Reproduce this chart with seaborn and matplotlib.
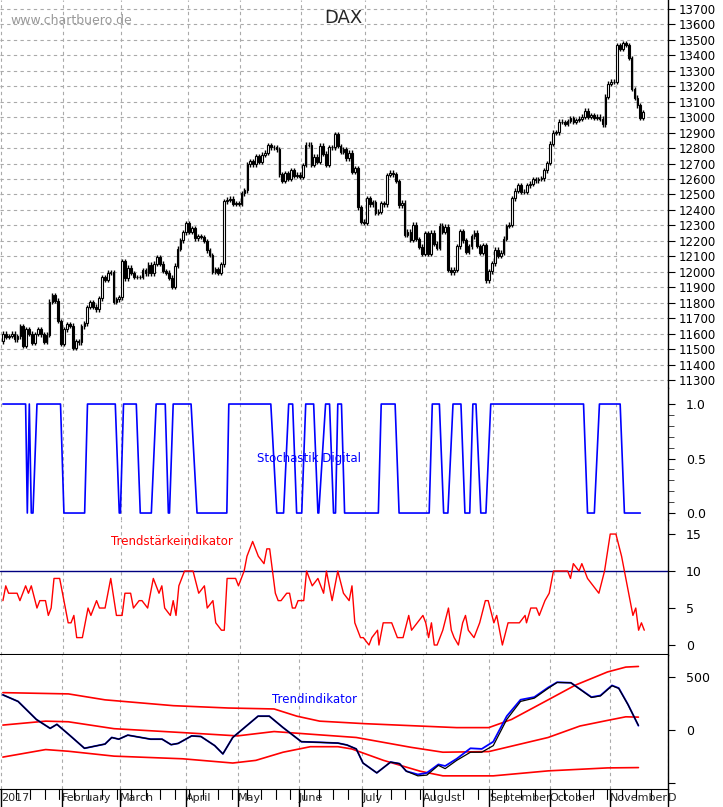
import matplotlib
matplotlib.use("Agg")
import matplotlib.pyplot as plt
import seaborn as sns
import numpy as np
import pandas as pd

sns.set_style("white")
plt.rcParams["font.family"] = ["DejaVu Sans"]

# ---- DAX daily closes 2017 (by month) ----
closes_jan = [11600, 11580, 11585, 11599, 11563, 11583, 11646, 11521, 11629, 11599, 11540,
              11597, 11630, 11595, 11545, 11594, 11806, 11849, 11814, 11681, 11535]
closes_feb = [11627, 11659, 11651, 11509, 11549, 11543, 11646, 11666, 11771, 11803, 11774,
              11757, 11827, 11967, 11947, 11995, 11998, 11804, 11822, 11834]
closes_mar = [12067, 11958, 12027, 11993, 11965, 11967, 11967, 12009, 11990, 12046, 11989, 12053,
              12095, 12052, 12006, 11995, 11962, 11904, 12039, 12149, 12203, 12256, 12313]
closes_apr = [12257, 12282, 12217, 12230, 12225, 12200, 12139, 12109, 12000, 12016, 11994, 12048,
              12455, 12467, 12472, 12438, 12443, 12438]
closes_may = [12507, 12527, 12694, 12716, 12694, 12749, 12711, 12757, 12770, 12820, 12804,
              12805, 12792, 12631, 12590, 12638, 12602, 12656, 12622, 12628, 12615]
closes_jun = [12690, 12822, 12823, 12690, 12745, 12713, 12815, 12764, 12690, 12806, 12805,
              12889, 12814, 12774, 12794, 12733, 12770, 12647, 12671, 12416, 12325, 12318]
closes_jul = [12475, 12437, 12452, 12381, 12389, 12445, 12437, 12626, 12641, 12631, 12587,
              12430, 12447, 12240, 12260, 12208, 12305, 12212, 12162, 12118, 12251]
closes_aug = [12118, 12252, 12182, 12154, 12298, 12257, 12292, 12014, 11996, 12014, 12165, 12263,
              12203, 12131, 12165, 12229, 12252, 12167, 12123, 12172, 11945, 12003, 12055]
closes_sep = [12142, 12102, 12124, 12214, 12296, 12304, 12475, 12524, 12560, 12519, 12518,
              12559, 12569, 12601, 12592, 12600, 12605, 12657, 12704, 12828, 12900]
closes_oct = [12902, 12970, 12968, 12955, 12976, 12992, 12970, 12982, 12991, 13003, 13043,
              13003, 13013, 12995, 13004, 12990, 12953, 13133, 13217, 13229, 13230]
closes_nov = [13466, 13440, 13478, 13468, 13383, 13182, 13127, 13076, 12994, 13033]

months = ["2017", "February", "March", "April", "May", "June", "July", "August",
          "September", "October", "November", "D"]
month_lengths = [21, 20, 23, 18, 21, 22, 21, 23, 21, 21, 20, 20]

# ---- Stochastik Digital (day, value) ----
stoch_day = [0, 8, 8.6, 9.3, 10, 10.6, 12, 20.3, 21.5, 28.8, 29.8, 39.6, 41, 41.4, 42.5, 47, 48.4,
             52.3, 54, 57.2, 58.3, 58.7, 60, 66.3, 68.4, 78.9, 79.6, 94.4, 96.5, 98.9, 100.7,
             102.1, 103.5, 105.3, 106.7, 109.5, 111, 111.3, 113.7, 115.1, 116.5, 117.2, 118,
             119.3, 120.4, 132.3, 133.3, 138.2, 139.6, 150.2, 151.3, 153.8, 155.3, 156.8, 158.6,
             161.4, 162.8, 164.5, 165.6, 166.7, 168.4, 170.2, 171.9, 204.6, 206, 208.4, 210.2,
             217.5, 219, 224.6]
stoch_val = [1, 1, 0, 1, 0, 0, 1, 1, 0, 0, 1, 1, 0, 0, 1, 1, 0,
             0, 1, 1, 0, 0, 1, 1, 0, 0, 1, 1, 0, 0, 1,
             1, 0, 0, 1, 1, 0, 0, 1, 1, 0, 0, 1,
             1, 0, 0, 1, 1, 0, 0, 1, 1, 0, 0, 1,
             1, 0, 0, 1, 1, 0, 0, 1, 1, 0, 0, 1,
             1, 0, 0]

# ---- Trendstaerkeindikator ----
ts_day = [0, 1, 2, 5, 6, 8, 9, 10, 12, 13, 15, 16, 17, 18, 20, 22, 23, 24, 25, 26, 28, 30, 31,
          33, 34, 36, 38, 40, 42, 43, 45, 46, 48, 49, 51, 51.5, 53, 55, 56, 57, 59, 60, 61, 62,
          64, 67, 69, 71, 72, 74, 75, 77, 78, 79, 82, 83, 85, 86, 88, 90, 92, 93, 94, 96, 97,
          98, 100, 101, 102, 103, 104, 106, 107, 108, 109, 111, 113, 114, 116, 118, 120, 122,
          123, 124, 126, 127, 129, 130, 132, 132.5, 134, 137, 139, 141, 143, 144, 146, 148, 149,
          150, 151, 152, 153, 155, 157, 158, 159, 160.5, 162, 163, 164, 166, 168, 170, 171, 173,
          174, 176, 178, 182, 184, 184.5, 186, 188, 189, 191, 192.5, 194, 199, 200, 201, 203,
          204, 206, 208, 210, 212, 214, 216, 218, 220, 222, 223, 224, 225, 226]
ts_val = [6, 8, 7, 7, 6, 8, 7, 8, 5, 6, 6, 4, 5, 9, 9, 5, 3, 3, 4, 1, 1, 5, 4,
          6, 5, 5, 9, 4, 4, 7, 7, 5, 6, 6, 5, 6, 9, 7, 8, 5, 4, 6, 4, 8,
          10, 10, 7, 8, 5, 6, 3, 2, 2, 9, 9, 8, 10, 12, 14, 12, 11, 13, 13, 7, 6,
          6, 7, 7, 5, 5, 6, 6, 10, 9, 8, 9, 7, 10, 6, 10, 7, 6,
          8, 3, 1, 1, 0, 1, 2, 0, 3, 3, 1, 1, 4, 2, 3, 4, 3,
          1, 3, 0, 0, 2, 5, 2, 1, 0, 3, 4, 2, 1, 3, 6, 6, 3,
          4, 0, 3, 3, 4, 3, 5, 5, 4, 6, 7, 10, 10, 9, 11, 10,
          11, 9, 8, 7, 10, 15, 15, 12, 8, 4, 5, 2, 3, 2]

# ---- Trendindikator ----
band_top_day = [0, 23.3, 36.3, 60.6, 80.1, 96.4, 104.5, 112.6, 128.8, 161.3, 172.7, 180.8,
                193.8, 203.5, 214.9, 221.4, 225.9]
band_top_val = [352, 340, 284, 229, 207, 198, 130, 83, 59, 22, 22, 99, 284, 423, 547, 593, 599]
band_mid_day = [0, 15.2, 23.3, 39.5, 63.9, 83.4, 96.4, 109.3, 125.6, 145.1, 156.4, 172.7, 193.8,
                205.1, 214.9, 221.4, 225.9]
band_mid_val = [46, 83, 77, 12, -25, -56, -15, -40, -71, -164, -210, -204, -71, 37, 90, 124, 121]
band_low_day = [0, 15.2, 23.3, 39.5, 63.9, 81.7, 89.9, 99.6, 109.3, 119.1, 124, 135.3, 148.3,
                156.4, 174.3, 193.8, 214.9, 225.9]
band_low_val = [-256, -185, -201, -247, -272, -312, -287, -210, -158, -158, -179, -287, -389,
                -433, -433, -386, -358, -355]
trend_day = [0, 5.4, 11.9, 16.8, 19.2, 23.3, 29, 36.3, 38.7, 41.2, 44.4, 52.5, 56.6, 59.8, 62.3,
             67.1, 70.4, 75.3, 78.2, 81.7, 90.7, 94.7, 99.6, 106.1, 112.6, 119.1, 122.3, 125.6,
             128, 132.9, 137.8, 141, 143.4, 147.5, 150.7, 154.8, 157.2, 161.3, 166.2, 170.2,
             174.3, 179.1, 184, 188.9, 193.8, 197, 201.9, 209.2, 212.4, 216.5, 218.9, 222.2, 225.9]
trend_black = [331, 269, 99, 15, 53, -40, -173, -133, -71, -87, -49, -87, -87, -139, -127,
               -56, -62, -148, -226, -71, 130, 130, 22, -111, -117, -124, -142, -179,
               -312, -405, -303, -318, -389, -433, -426, -334, -365, -287, -210, -210,
               -148, 99, 269, 300, 392, 448, 445, 306, 321, 417, 392, 238, 43]
trend_blue = [331, 269, 99, 15, 53, -40, -173, -133, -71, -87, -49, -87, -87, -139, -127,
              -56, -62, -148, -226, -71, 130, 130, 22, -111, -117, -124, -142, -179,
              -312, -405, -303, -318, -389, -420, -405, -325, -340, -272, -173, -179,
              -111, 130, 285, 310, 400, 450, 445, 310, 325, 420, 395, 240, 40]

DAY_SCALE = 0.975  # indicator day units -> trading-day index

closes = np.array(closes_jan + closes_feb + closes_mar + closes_apr + closes_may + closes_jun +
                  closes_jul + closes_aug + closes_sep + closes_oct + closes_nov, dtype=float)
opens = np.concatenate([[11550], closes[:-1]])
highs = np.maximum(opens, closes) + 15
lows = np.minimum(opens, closes) - 15
idx = np.arange(len(closes))
month_starts = np.concatenate([[0], np.cumsum(month_lengths)[:-1]])

W, H = 723, 807
fig = plt.figure(figsize=(W / 100, H / 100), dpi=100)
XL = (-1, 228.5)


def panel(top, bottom):
    return fig.add_axes([0, 1 - bottom / H, 668 / W, (bottom - top) / H])


def style(ax, ylim):
    ax.set_xlim(*XL)
    ax.set_ylim(*ylim)
    ax.yaxis.tick_right()
    for s in ["top", "left", "bottom"]:
        ax.spines[s].set_visible(False)
    ax.spines["right"].set_color("black")
    ax.spines["right"].set_linewidth(1)
    ax.tick_params(axis="y", direction="out", length=5, labelsize=9, pad=8, colors="black")
    ax.set_xticks([])
    for m in month_starts:
        ax.axvline(m - 0.5, color="#aaaaaa", ls=(0, (3, 3)), lw=0.8, zorder=0)
    ax.set_facecolor("white")


# price
ax1 = panel(0, 388)
style(ax1, (11248, 13758))
ax1.set_yticks(np.arange(11300, 13701, 100))
ax1.tick_params(axis="y", labelsize=8.5, pad=3)
for y in np.arange(11300, 13701, 100):
    ax1.axhline(y, color="#aaaaaa", ls=(0, (3, 3)), lw=0.8, zorder=0)
ax1.vlines(idx, lows, highs, color="black", lw=1, zorder=2)
up = closes >= opens
ax1.bar(idx[up], (closes - opens)[up], bottom=opens[up], width=0.6,
        facecolor="white", edgecolor="black", lw=0.8, zorder=3)
ax1.bar(idx[~up], (opens - closes)[~up], bottom=closes[~up], width=0.6,
        facecolor="black", edgecolor="black", lw=0.8, zorder=3)
fig.text(343 / W, 1 - 18 / H, "DAX", ha="center", va="center", fontsize=13)
fig.text(10 / W, 1 - 20 / H, "www.chartbuero.de", ha="left", va="center", fontsize=9, color="#999999")

# stochastik
ax2 = panel(388, 520)
style(ax2, (-0.064, 1.147))
ax2.set_yticks([0, 0.5, 1.0])
ax2.set_yticklabels(["0.0", "0.5", "1.0"])
ax2.set_yticks(np.arange(0, 1.01, 0.1), minor=True)
ax2.tick_params(axis="y", which="minor", length=4, direction="out")
sns.lineplot(x=np.array(stoch_day) * DAY_SCALE, y=stoch_val, ax=ax2, color="#0000ff", lw=1.2,
             estimator=None, sort=False)
ax2.text(105, 0.5, "Stochastik Digital", color="#0000ff",
         ha="center", va="center", fontsize=8.5)

# trendstaerke
ax3 = panel(520, 655)
style(ax3, (-1.35, 16.9))
ax3.set_yticks([0, 5, 10, 15])
ax3.axhline(10, color="#000080", lw=1)
sns.lineplot(x=np.array(ts_day) * DAY_SCALE, y=ts_val, ax=ax3, color="red", lw=1,
             estimator=None, sort=False)
ax3.text(58, 14, "Trendstärkeindikator", color="red", ha="center", va="center", fontsize=8.5)
ax3.axhline(-1.35, color="black", lw=1.5, clip_on=False)

# trendindikator
ax4 = panel(655, 789)
style(ax4, (-557, 707))
ax4.set_yticks([-500, 0, 500])
ax4.set_yticklabels(["", "0", "500"])
for d, v in [(band_top_day, band_top_val), (band_mid_day, band_mid_val), (band_low_day, band_low_val)]:
    sns.lineplot(x=np.array(d) * DAY_SCALE, y=v, ax=ax4, color="red", lw=1.2, estimator=None, sort=False)
sns.lineplot(x=np.array(trend_day) * DAY_SCALE, y=trend_blue, ax=ax4, color="#0000ff", lw=1.3,
             estimator=None, sort=False)
sns.lineplot(x=np.array(trend_day) * DAY_SCALE, y=trend_black, ax=ax4, color="black", lw=0.9,
             estimator=None, sort=False)
ax4.text(108, 290, "Trendindikator", color="#0000ff", ha="center", va="center", fontsize=8.5)
ax4.spines["bottom"].set_visible(True)
ax4.spines["bottom"].set_color("black")
# month labels and weekly ticks
ax4.set_xticks(month_starts - 0.5)
ax4.set_xticklabels(months, ha="left", fontsize=8, family=["Liberation Sans Narrow", "DejaVu Sans"])
ax4.tick_params(axis="x", which="both", direction="in", length=0, pad=3)
for m in month_starts:
    ax4.plot([m - 0.5, m - 0.5], [-557, -557 - 240], color="black", lw=1, clip_on=False)
for t in np.arange(0, 229, 5) - 0.5:
    ax4.plot([t, t], [-557, -557 - 90], color="black", lw=0.8, clip_on=False)

fig.savefig("out.png", dpi=100, facecolor="white")
